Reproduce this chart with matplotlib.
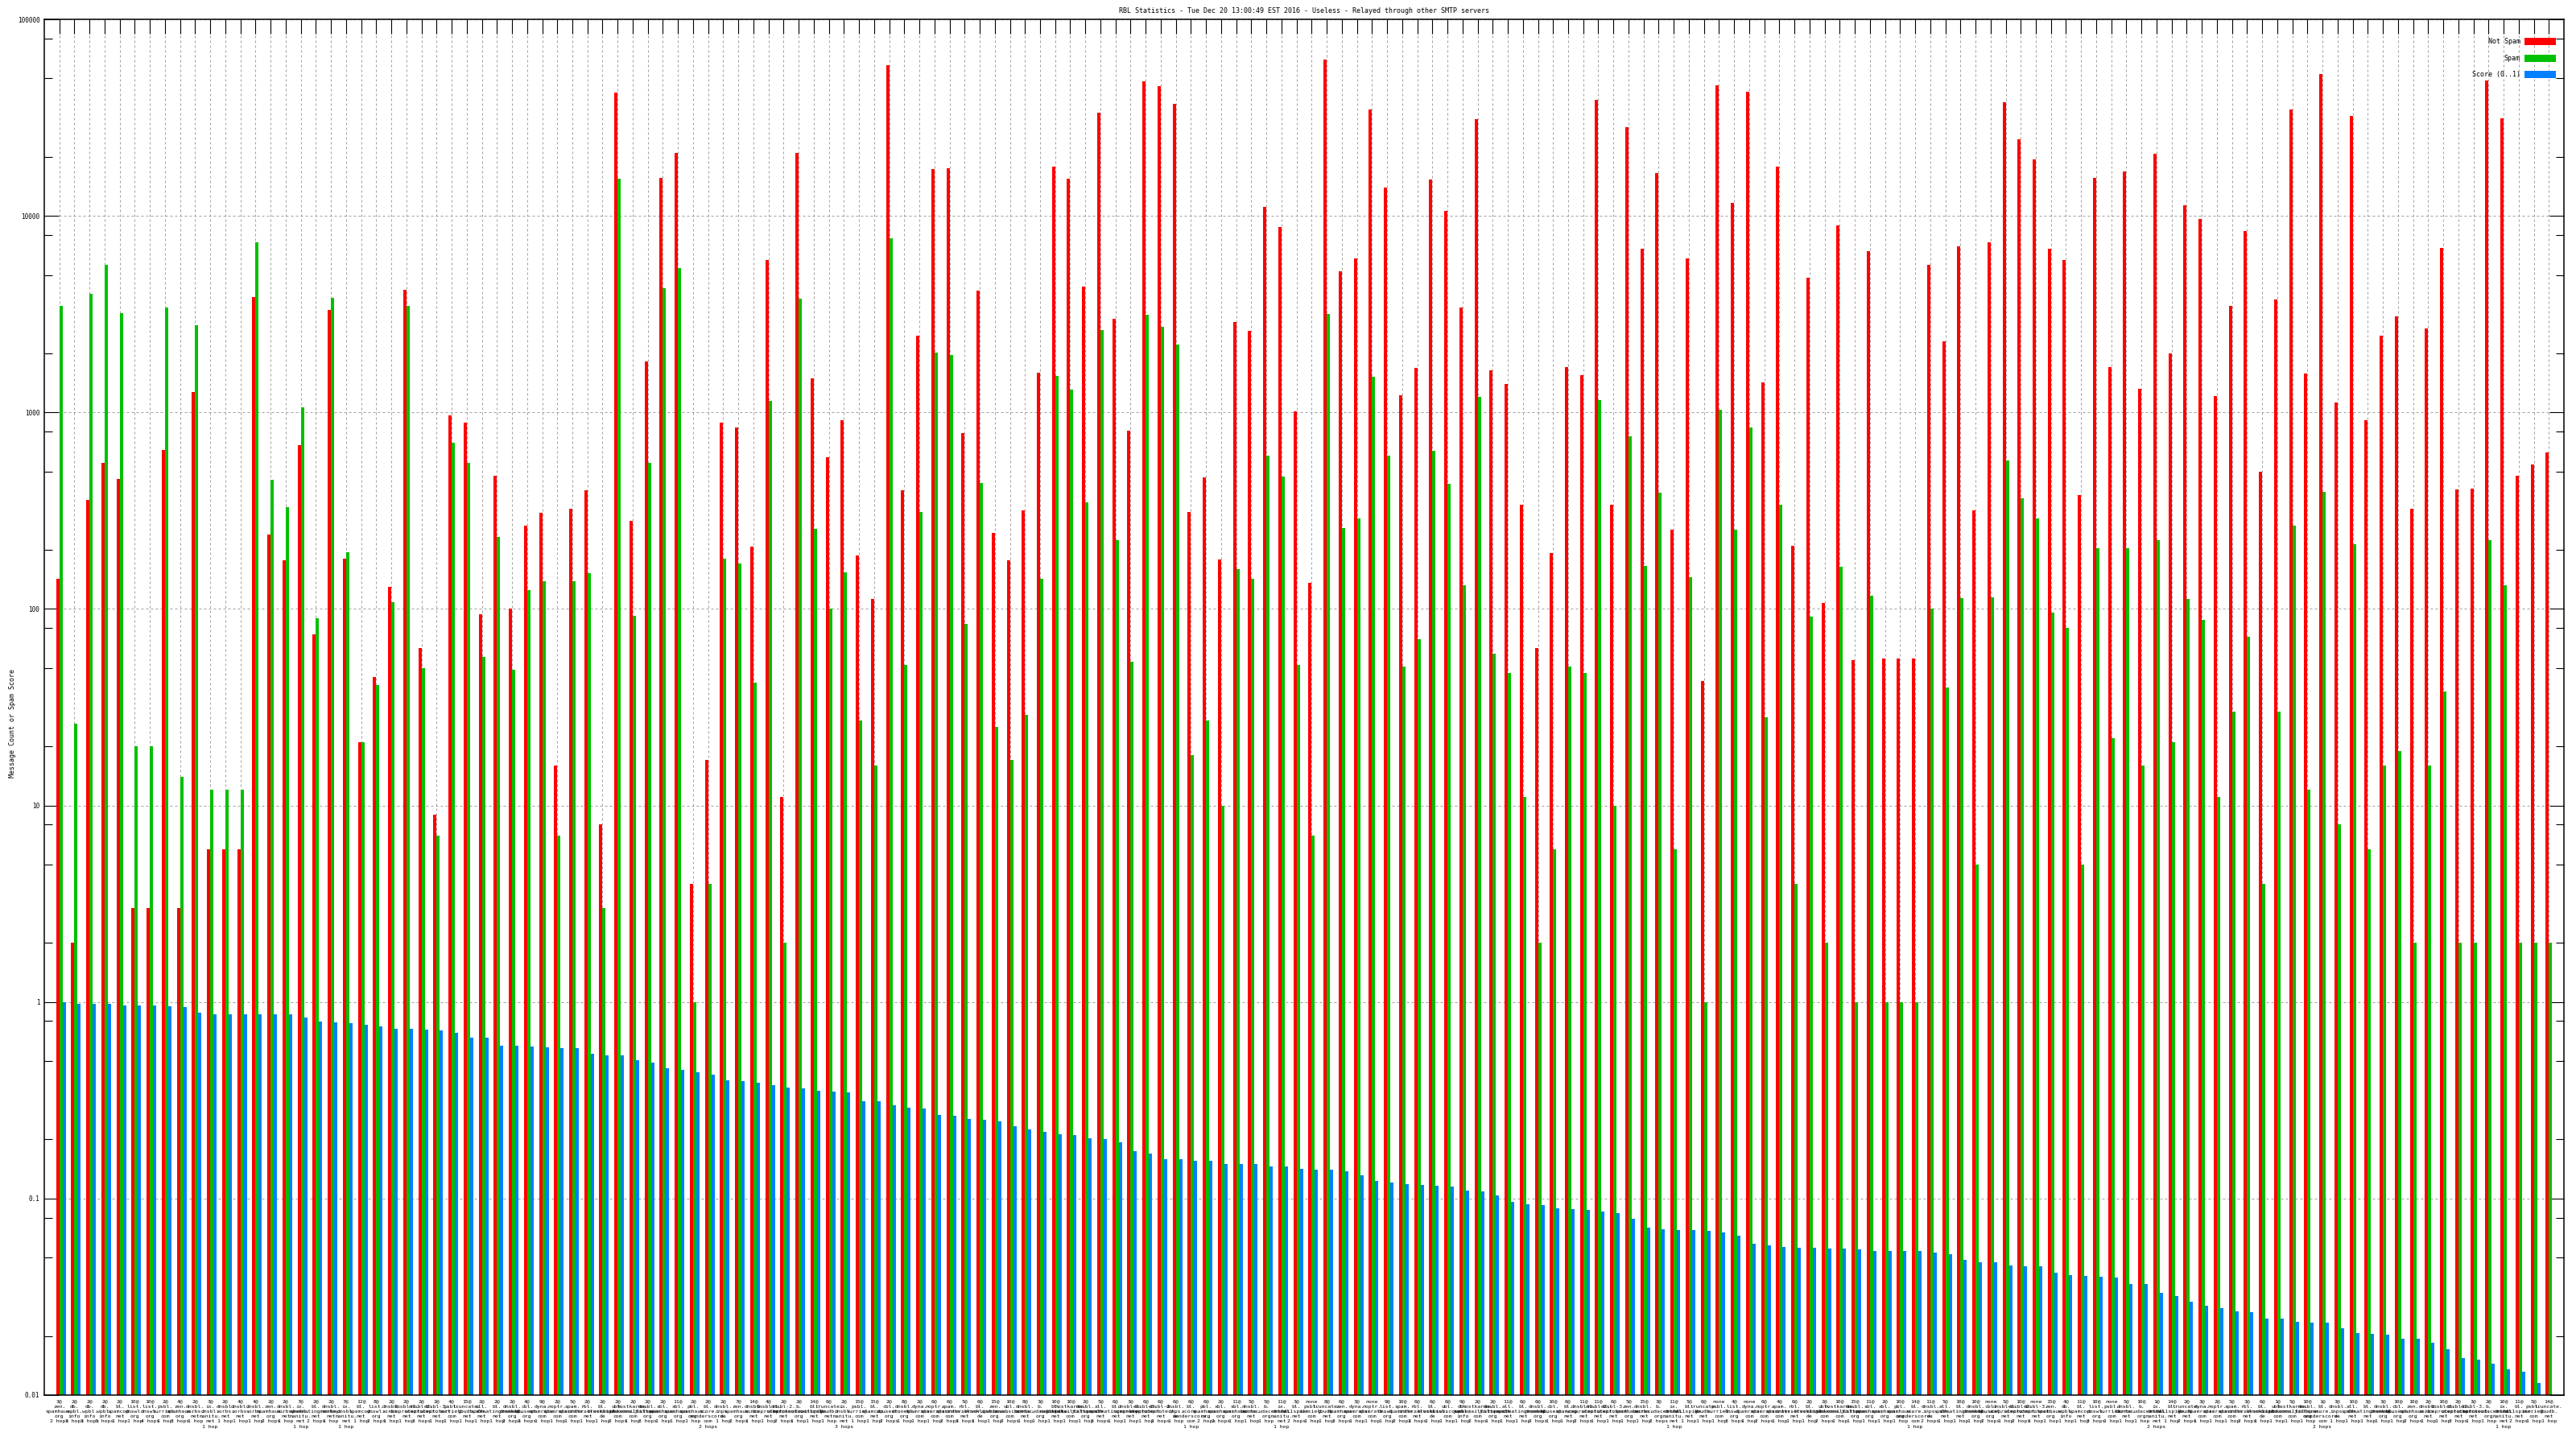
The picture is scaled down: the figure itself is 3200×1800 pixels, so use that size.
#!/usr/bin/python

import numpy as np
import matplotlib
matplotlib.use('Agg')
import matplotlib.pyplot as plt
from matplotlib.ticker import FixedLocator, FuncFormatter, NullFormatter

title = "RBL Statistics - Tue Dec 20 13:00:49 EST 2016 - Useless - Relayed through other SMTP servers"

not_spam = [143, 2, 360, 556, 457, 3, 3, 643, 3, 1273,
            6, 6, 6, 3856, 238, 176, 684, 74, 3336, 181,
            21, 45, 130, 4190, 63, 9, 962, 886, 94, 476,
            100, 264, 308, 16, 324, 403, 8, 42200, 281, 1810,
            15600, 20860, 4, 17, 886, 841, 208, 5960, 11, 20860,
            1487, 591, 914, 187, 112, 58200, 403, 2445, 17310, 17500,
            782, 4146, 243, 176, 318, 1599, 17860, 15450, 4366, 33580,
            3008, 807, 48300, 45800, 37270, 311, 466, 178, 2885, 2602,
            11090, 8740, 1014, 136, 62550, 5207, 6085, 34660, 13930, 1222,
            1684, 15290, 10640, 3404, 30940, 1632, 1397, 338, 63, 193,
            1701, 1549, 38830, 340, 28180, 6820, 16440, 253, 6085, 43,
            46340, 11680, 42660, 1427, 17860, 210, 4844, 107, 8925, 55,
            6610, 56, 56, 56, 5659, 2297, 7030, 318, 7330, 38030,
            24620, 19410, 6820, 5960, 379, 15600, 1701, 16790, 1314, 20650,
            1987, 11320, 9600, 1209, 3475, 8390, 501, 3740, 34660, 1582,
            52480, 1125, 32240, 914, 2445, 3070, 324, 2685, 6890, 407,
            410, 48750, 31260, 476, 545, 623]

spam = [3475, 26, 4018, 5659, 3200, 20, 20, 3404, 14, 2770,
        12, 12, 12, 7330, 452, 331, 1057, 90, 3815, 195,
        21, 41, 108, 3475, 50, 7, 698, 556, 57, 233,
        49, 125, 139, 7, 139, 152, 3, 15450, 92, 556,
        4276, 5430, 1, 4, 181, 171, 42, 1148, 2, 3777,
        256, 100, 154, 27, 16, 7720, 52, 311, 2008, 1966,
        84, 438, 25, 17, 29, 143, 1534, 1300, 349, 2630,
        223, 54, 3133, 2713, 2204, 18, 27, 10, 160, 143,
        604, 471, 52, 7, 3167, 258, 290, 1518, 604, 51,
        70, 636, 434, 132, 1196, 59, 47, 11, 2, 6,
        51, 47, 1159, 10, 759, 165, 391, 6, 145, 1,
        1035, 253, 841, 28, 338, 4, 91, 2, 164, 1,
        117, 1, 1, 1, 100, 40, 114, 5, 115, 567,
        367, 290, 96, 80, 5, 204, 22, 204, 16, 223,
        21, 112, 88, 11, 30, 72, 4, 30, 264, 12,
        395, 8, 214, 6, 16, 19, 2, 16, 38, 2,
        2, 223, 132, 2, 2, 2]

score = [0.997, 0.975, 0.975, 0.975, 0.957, 0.957, 0.957, 0.948, 0.939, 0.879,
         0.863, 0.863, 0.863, 0.863, 0.863, 0.863, 0.831, 0.792, 0.785, 0.777,
         0.763, 0.749, 0.728, 0.728, 0.721, 0.714, 0.70, 0.66, 0.66, 0.60,
         0.60, 0.596, 0.59, 0.585, 0.58, 0.543, 0.537, 0.537, 0.505, 0.49,
         0.46, 0.45, 0.44, 0.428, 0.40, 0.395, 0.39, 0.378, 0.366, 0.362,
         0.355, 0.35, 0.348, 0.313, 0.313, 0.298, 0.291, 0.288, 0.266, 0.263,
         0.255, 0.252, 0.247, 0.234, 0.225, 0.218, 0.213, 0.211, 0.203, 0.20,
         0.193, 0.174, 0.170, 0.158, 0.158, 0.155, 0.155, 0.150, 0.150, 0.150,
         0.146, 0.146, 0.141, 0.140, 0.140, 0.137, 0.131, 0.123, 0.121, 0.118,
         0.117, 0.116, 0.115, 0.110, 0.109, 0.1035, 0.0962, 0.0933, 0.0923, 0.0895,
         0.0886, 0.0877, 0.0859, 0.0841, 0.0791, 0.0713, 0.0698, 0.069, 0.069, 0.0683,
         0.067, 0.0649, 0.0591, 0.058, 0.0568, 0.0562, 0.0562, 0.0557, 0.0557, 0.0551,
         0.0539, 0.0539, 0.0539, 0.0539, 0.0533, 0.0522, 0.0486, 0.0476, 0.0476, 0.0456,
         0.0451, 0.0451, 0.042, 0.0408, 0.0404, 0.040, 0.0396, 0.0367, 0.0367, 0.0331,
         0.032, 0.0298, 0.0284, 0.0278, 0.0267, 0.0264, 0.0245, 0.0245, 0.0237, 0.0234,
         0.0234, 0.0219, 0.0206, 0.0204, 0.0202, 0.0193, 0.0193, 0.0184, 0.0171, 0.0154,
         0.0151, 0.0145, 0.0135, 0.0132, 0.0115, 0.01]

# first line of each tick label (threshold)
thresholds = ("3 2 2 2 2 10 10 2 4 2 3 2 4 4 2 2 7 2 2 7 12 8 2 2 2 2 4 15 "
              "2 2 2 4 9 2 5 2 2 2 2 2 2 11 2 2 2 7 14 4 2 2 14 6 2 15 15 "
              "2 8 2 6 6 5 6 15 10 8 3 10 10 2 5 6 3 6 6 6 6 6 2 11 5 5 11 3 "
              "none 8 6 3 none 9 10 6 6 6 9 2 2 11 6 6 10 6 11 11 6 5 15 3 11 5 6 none "
              "4 none 6 4 6 2 2 10 15 11 2 10 14 11 5 10 10 none 5 10 none 15 4 11 10 none 5 10 "
              "1 14 2 3 2 5 3 6 1 5 10 1 3 10 3 3 10 10 2 10 2 3 2 10 11 5 14").split()

rbl_names = {
    'A': 'zen.spamhaus.org', 'B': 'db.wpbl.info', 'C': 'bl.spamcop.net',
    'D': 'list.dnswl.org', 'E': 'psbl.surriel.com', 'F': 'dnsbl.sorbs.net',
    'G': 'b.barracudacentral.org', 'H': 'ix.dnsbl.manitu.net', 'I': 'bl.mailspike.net',
    'J': 'dnsbl-1.uceprotect.net', 'K': 'dnsbl-2.uceprotect.net', 'L': 'dnsbl-3.uceprotect.net',
    'M': 'truncate.gbudb.net', 'N': 'all.s5h.net', 'O': 'bl.spameatingmonkey.net',
    'P': 'dnsbl.dronebl.org', 'Q': 'cbl.abuseat.org', 'R': 'dyna.spamrats.com',
    'S': 'noptr.spamrats.com', 'T': 'spam.spamrats.com', 'U': 'rbl.interserver.net',
    'V': 'bl.blocklist.de', 'W': 'ubl.unsubscore.com', 'X': 'hostkarma.junkemailfilter.com',
    'Y': 'dnsbl.justspam.org', 'Z': 'sbl.spamhaus.org', 'a': 'xbl.spamhaus.org',
    'b': 'pbl.spamhaus.org', 'c': 'bl.score.senderscore.com', 'd': 'dnsbl.inps.de',
}
rbl_seq = ("ABBBCDDEAF" "HFFFAFHOFH" "CDFJKLEMNO" "PQRSTUVWXY" "ZabcdAFJKG"
           "IMHECQPRST" "UVAWFGIXYN" "OJLKdcbaZF" "GHIEMARSDT" "UVWBXYNOPQ"
           "CJKLAFGHIM" "EDRSTUVWXY" "ZabcdNOPQJ" "KLABCDEFGH" "IMRSTUVWXY"
           "cdNOPQAFJK" "LGHIEM")
hops = ("2333114131" "1111211211" "1211311111" "2211111213" "1112121121"
        "1131121112" "2112111113" "1112112211" "1121131112" "2111211121"
        "1211112111" "1312111211" "1111211121" "2111131112" "1211121111"
        "2111112113" "111211")

yticks_major = [0.01, 0.1, 1, 10, 100, 1000, 10000, 100000]
yticks_minor = [m * d for d in [0.01, 0.1, 1, 10, 100, 1000, 10000] for m in (2, 5, 8)]

labels = []
for t, r, h in zip(thresholds, rbl_seq, hops):
    first = t if t == 'none' else t + '@'
    name = rbl_names[r].replace('.', '.\n')
    hop = h + (' hop' if h == '1' else ' hops')
    labels.append(first + '\n' + name + '\n' + hop)

W, H = 3200, 1800
fig = plt.figure(figsize=(32, 18), dpi=100)
ax = fig.add_axes([55 / W, 1 - 1733 / H, 3130 / W, (1733 - 24) / H])

x = np.arange(len(not_spam))
bw = 4 / 18.74
base = 0.01
ax.bar(x - bw / 2, np.array(not_spam) - base, bw, bottom=base, color='#ff0000', label='Not Spam')
ax.bar(x + bw / 2, np.array(spam) - base, bw, bottom=base, color='#00c000', label='Spam')
ax.bar(x + 1.5 * bw, np.array(score) - base, bw, bottom=base, color='#0080ff', label='Score (0..1)')

ax.set_yscale('log')
ax.set_ylim(0.01, 100000)
ax.set_xlim(-1, len(not_spam))

ax.yaxis.set_major_locator(FixedLocator(yticks_major))
ax.yaxis.set_minor_locator(FixedLocator(yticks_minor))
ax.yaxis.set_major_formatter(FuncFormatter(lambda v, p: '%g' % v))
ax.yaxis.set_minor_formatter(NullFormatter())

ax.set_xticks(x)
ax.set_xticklabels(labels, fontsize=4.6, family='DejaVu Sans Mono', linespacing=1.3)
ax.tick_params(axis='x', direction='in', top=True, bottom=False, length=13, width=0.8, pad=4)
ax.tick_params(axis='y', which='major', direction='in', left=True, right=True, length=13, width=0.8, labelsize=5.5, pad=4)
ax.tick_params(axis='y', which='minor', direction='in', left=True, right=True, length=7, width=0.8)
for lab in ax.get_yticklabels():
    lab.set_family('DejaVu Sans Mono')

ax.set_axisbelow(True)
ax.grid(True, which='major', color='#a0a0a0', linestyle=(0, (3, 3)), linewidth=0.72)
for s in ax.spines.values():
    s.set_linewidth(1.1)

fig.text(1620 / W, 1 - 13 / H, title, ha='center', va='center', fontsize=6, family='DejaVu Sans Mono')
fig.text(16 / W, 1 - 898 / H, 'Message Count or Spam Score', rotation=90, ha='center', va='center',
         fontsize=6, family='DejaVu Sans Mono')

ax.legend(loc='upper right', bbox_to_anchor=(3175 / W, 1 - 47 / H), bbox_transform=fig.transFigure,
          frameon=False, markerfirst=False, prop={'family': 'DejaVu Sans Mono', 'size': 6},
          handlelength=4.7, handleheight=1.3, labelspacing=1.35, handletextpad=0.6,
          borderpad=0, borderaxespad=0)

plt.savefig('out.png', dpi=100)
